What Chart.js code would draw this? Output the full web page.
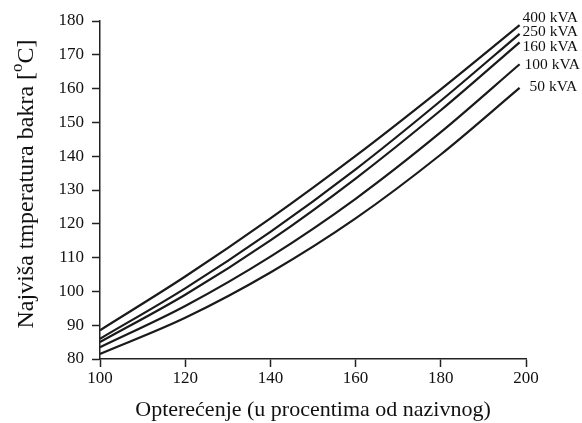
<!DOCTYPE html>
<html>
<head>
<meta charset="utf-8">
<script src="https://cdn.jsdelivr.net/npm/chart.js@4.4.1/dist/chart.umd.min.js"></script>
<style>
  html, body { margin: 0; padding: 0; background: #fff; }
  #wrap { position: relative; width: 582px; height: 423px; }
</style>
</head>
<body>
<div id="wrap"><canvas id="chart"></canvas></div>
<script>
const loadPct = [100, 120, 140, 160, 180, 198.5];
const seriesNames = ["400 kVA", "250 kVA", "160 kVA", "100 kVA", "50 kVA"];
const temp400 = [88.5, 104.4, 121.6, 140.1, 159.8, 178.8];
const temp250 = [86, 100.9, 117.6, 136.1, 156.4, 176.2];
const temp160 = [85, 99, 115.1, 133.4, 153.6, 173.7];
const temp100 = [83.5, 95.7, 110.3, 127.4, 147.1, 167.2];
const temp50 = [81.5, 92.2, 105.6, 121.6, 140.5, 160.2];
const xTicks = [100, 120, 140, 160, 180, 200];
const yTicks = [80, 90, 100, 110, 120, 130, 140, 150, 160, 170, 180];

const serif = "'Liberation Serif', 'DejaVu Serif', serif";
const allSeries = [temp400, temp250, temp160, temp100, temp50];

// label offsets from the last point of each curve
const labelOffsets = [[3, -7], [3, -2], [3, 5], [5, 1], [10, -1]];

const endLabels = {
  id: "endLabels",
  afterDatasetsDraw(chart) {
    const ctx = chart.ctx;
    ctx.save();
    ctx.font = "15.5px " + serif;
    ctx.fillStyle = "#111";
    ctx.textBaseline = "middle";
    ctx.textAlign = "left";
    chart.data.datasets.forEach((ds, i) => {
      const pts = chart.getDatasetMeta(i).data;
      const last = pts[pts.length - 1];
      const off = labelOffsets[i];
      ctx.fillText(ds.label, last.x + off[0], last.y + off[1]);
    });
    ctx.restore();
  }
};

const yTitle = {
  id: "yTitle",
  afterDraw(chart) {
    const ctx = chart.ctx;
    const area = chart.chartArea;
    const main = "Najviša tmperatura bakra [";
    const sup = "o";
    const tail = "C]";
    ctx.save();
    ctx.translate(27, (area.top + area.bottom) / 2 - 6);
    ctx.rotate(-Math.PI / 2);
    ctx.fillStyle = "#111";
    ctx.textBaseline = "middle";
    const big = "24px " + serif;
    const small = "17px " + serif;
    ctx.font = big;
    const w1 = ctx.measureText(main).width;
    const w3 = ctx.measureText(tail).width;
    ctx.font = small;
    const w2 = ctx.measureText(sup).width;
    let x = -(w1 + w2 + w3) / 2;
    ctx.textAlign = "left";
    ctx.font = big;
    ctx.fillText(main, x, 0);
    x += w1;
    ctx.font = small;
    ctx.fillText(sup, x, -9);
    x += w2;
    ctx.font = big;
    ctx.fillText(tail, x, 0);
    ctx.restore();
  }
};

new Chart(document.getElementById("chart"), {
  type: "line",
  data: {
    datasets: allSeries.map((vals, i) => ({
      label: seriesNames[i],
      data: loadPct.map((x, j) => ({ x: x, y: vals[j] })),
      borderColor: "#1a1a1a",
      borderWidth: 2.2,
      pointRadius: 0,
      fill: false,
      cubicInterpolationMode: "monotone"
    }))
  },
  options: {
    responsive: true,
    maintainAspectRatio: false,
    animation: false,
    layout: { padding: { top: 21, right: 56, left: 0, bottom: 0 } },
    plugins: {
      legend: { display: false },
      tooltip: { enabled: false }
    },
    scales: {
      x: {
        type: "linear",
        min: 100,
        max: 200,
        afterBuildTicks: (s) => { s.ticks = xTicks.map(v => ({ value: v })); },
        afterFit: (s) => { s.height = 64; },
        grid: { drawOnChartArea: false, tickLength: 8, color: "#222", tickWidth: 1.5 },
        border: { display: true, color: "#222", width: 1.5 },
        ticks: { color: "#111", font: { family: serif, size: 17 }, padding: 1 },
        title: {
          display: true,
          text: "Opterećenje (u procentima od nazivnog)",
          color: "#111",
          font: { family: serif, size: 22 },
          padding: { top: 2, bottom: 0 }
        }
      },
      y: {
        min: 80,
        max: 180,
        afterBuildTicks: (s) => { s.ticks = yTicks.map(v => ({ value: v })); },
        afterFit: (s) => { s.width = 100; },
        grid: { drawOnChartArea: false, tickLength: 8, color: "#222", tickWidth: 1.5 },
        border: { display: true, color: "#222", width: 1.5 },
        ticks: { color: "#111", font: { family: serif, size: 17 }, padding: 8 }
      }
    }
  },
  plugins: [endLabels, yTitle]
});
</script>
</body>
</html>
